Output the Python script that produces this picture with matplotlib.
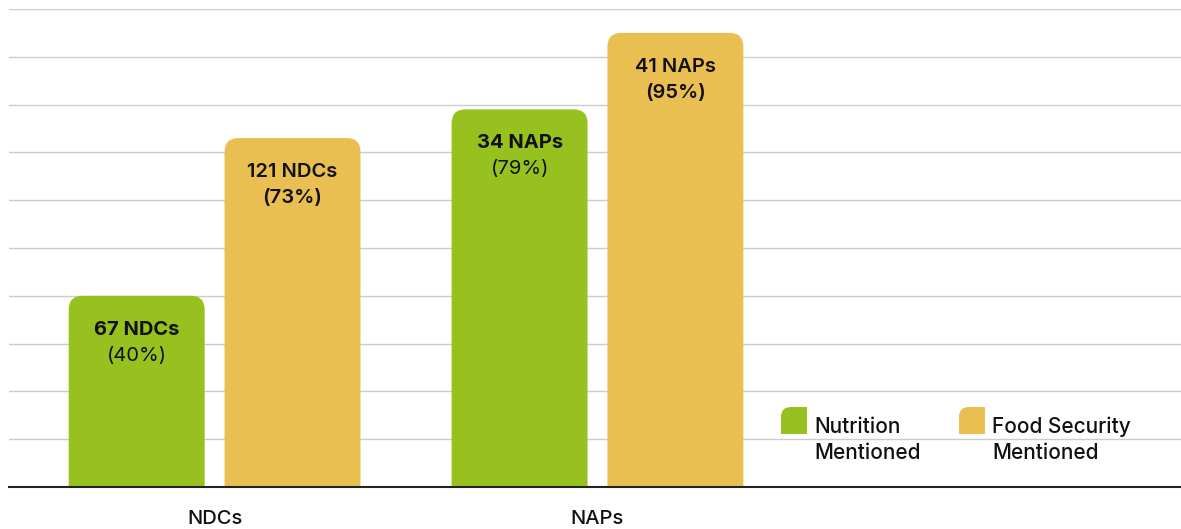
import matplotlib.pyplot as plt
from matplotlib.path import Path
from matplotlib.patches import PathPatch

plt.rcParams['font.family'] = ['Inter', 'DejaVu Sans']

# data
groups = ["NDCs", "NAPs"]
series = ["Nutrition\nMentioned", "Food Security\nMentioned"]
pct = {
    "Nutrition": [40, 79],
    "Food Security": [73, 95],
}
counts = {
    "Nutrition": ["67 NDCs", "34 NAPs"],
    "Food Security": ["121 NDCs", "41 NAPs"],
}
pct_labels = {
    "Nutrition": ["(40%)", "(79%)"],
    "Food Security": ["(73%)", "(95%)"],
}
colors = {"Nutrition": "#97C11F", "Food Security": "#E9BF52"}

W, H = 1181, 529
fig = plt.figure(figsize=(W / 100, H / 100), dpi=100)
ax = fig.add_axes([9 / W, (H - 487) / H, 1172 / W, (487 - 9) / H])


def rounded_path(x0, y0, x1, y1, rx, ry, tl=True, tr=True):
    # rectangle with rounded top corners (quadratic bezier)
    verts = [(x0, y0)]
    codes = [Path.MOVETO]
    if tl:
        verts += [(x0, y1 - ry), (x0, y1), (x0 + rx, y1)]
        codes += [Path.LINETO, Path.CURVE3, Path.CURVE3]
    else:
        verts += [(x0, y1)]
        codes += [Path.LINETO]
    if tr:
        verts += [(x1 - rx, y1), (x1, y1), (x1, y1 - ry)]
        codes += [Path.LINETO, Path.CURVE3, Path.CURVE3]
    else:
        verts += [(x1, y1)]
        codes += [Path.LINETO]
    verts += [(x1, y0), (x0, y0)]
    codes += [Path.LINETO, Path.CLOSEPOLY]
    return Path(verts, codes)


bar_w = 0.355
offset = 0.2035
px_x = 1 / 383.0   # data units per pixel, x
px_y = 100 / 478.0  # data units per pixel, y
rad = 14

ax.set_xlim(-0.537, 2.524)
ax.set_ylim(0, 100)

weights = {"Nutrition": ("bold", "normal"), "Food Security": ("semibold", "semibold")}
for i, key in enumerate(["Nutrition", "Food Security"]):
    xs = [g + (i * 2 - 1) * offset for g in range(len(groups))]
    for j, (x, v) in enumerate(zip(xs, pct[key])):
        p = rounded_path(x - bar_w / 2, 0, x + bar_w / 2, v, rad * px_x, rad * px_y)
        ax.add_patch(PathPatch(p, facecolor=colors[key], edgecolor="none", zorder=2))
        ax.annotate(counts[key][j], (x, v), xytext=(0, -34), textcoords="offset pixels",
                    ha="center", va="center", fontsize=14.5, fontweight=weights[key][0],
                    color="#111111", zorder=3)
        ax.annotate(pct_labels[key][j], (x, v), xytext=(0, -60), textcoords="offset pixels",
                    ha="center", va="center", fontsize=14.5, fontweight=weights[key][1],
                    color="#111111", zorder=3)

ax.set_yticks(range(0, 101, 10))
ax.yaxis.grid(True, color="#cccccc", linewidth=1)
ax.set_axisbelow(True)
for s in ["top", "right", "left"]:
    ax.spines[s].set_visible(False)
ax.spines["bottom"].set_color("#222222")
ax.spines["bottom"].set_linewidth(1.5)
ax.tick_params(left=False, labelleft=False, bottom=False)
ax.set_xticks(range(len(groups)))
ax.set_xticklabels(groups, fontsize=14.5, fontweight="medium", color="#111111")
ax.tick_params(axis="x", pad=13)

# legend
leg_x = [781, 959]
for i, key in enumerate(["Nutrition", "Food Security"]):
    x0, y0 = leg_x[i] / W, 1 - 434 / H
    x1, y1 = (leg_x[i] + 26) / W, 1 - 407 / H
    p = rounded_path(x0, y0, x1, y1, 10 / W, 10 / H, tl=True, tr=False)
    fig.add_artist(PathPatch(p, facecolor=colors[key], edgecolor="none",
                             transform=fig.transFigure, zorder=3))
    fig.text((leg_x[i] + 33) / W, 1 - 440 / H, series[i], ha="left", va="center",
             fontsize=15, fontweight="medium", color="#111111", linespacing=1.35)

fig.savefig("out.png", dpi=100)
